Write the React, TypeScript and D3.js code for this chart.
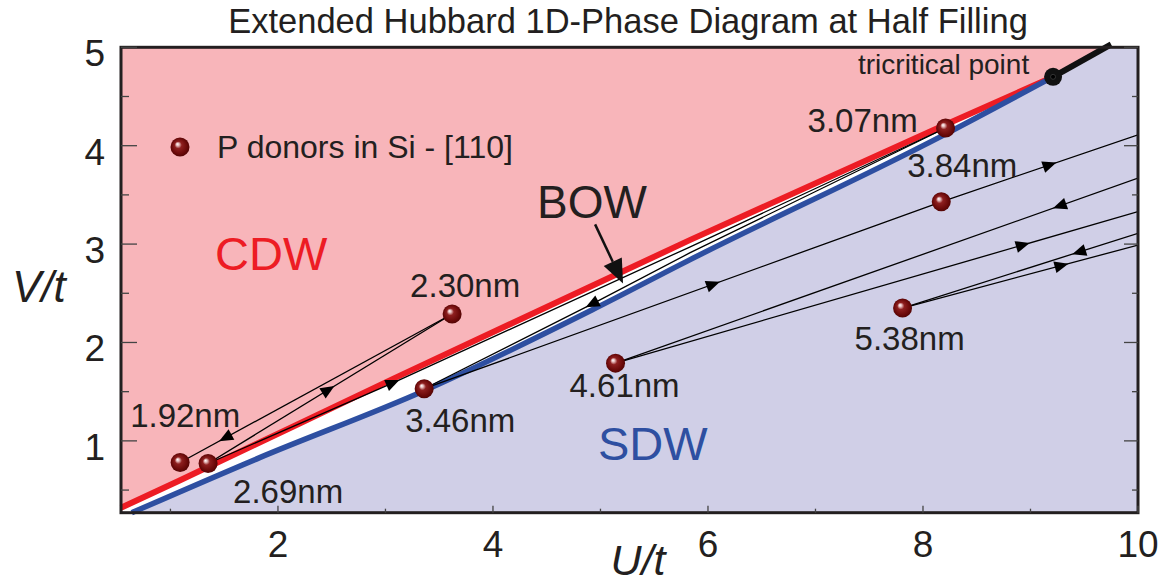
import React from 'react';
import * as d3 from 'd3';

// ---- data (U/t, V/t) ----
const xTicks = [2, 4, 6, 8, 10];
const xMinor = [1, 3, 5, 7, 9];
const yTicks = [1, 2, 3, 4, 5];
const yMinor = [0.5, 1.5, 2.5, 3.5, 4.5];

// CDW / BOW boundary (red) and BOW / SDW boundary (blue)
const cdwLine: [number, number][] = [[0.54, 0.32], [1.09, 0.60], [3.07, 1.63], [5.83, 3.04], [8.16, 4.19], [9.21, 4.70]];
const sdwLine: [number, number][] = [[0.64, 0.27], [1.83, 0.83], [3.36, 1.51], [4.92, 2.33], [5.83, 2.84], [8.16, 4.09], [9.21, 4.70]];
const tricritical: [number, number] = [9.21, 4.70];
const firstOrder: [number, number][] = [[9.21, 4.70], [9.75, 5.03]];

const donorLabels = ['1.92nm', '2.69nm', '2.30nm', '3.46nm', '4.61nm', '3.07nm', '3.84nm', '5.38nm'];
const donorU = [1.09, 1.35, 3.62, 3.36, 5.14, 8.21, 8.17, 7.81];
const donorV = [0.78, 0.77, 2.29, 1.53, 1.79, 4.18, 3.43, 2.35];

// flow trajectories, arrows given as U position and direction along the point order
const flow1: [number, number][] = [[3.62, 2.29], [1.09, 0.78]];
const flow2: [number, number][] = [[1.35, 0.77], [3.62, 2.29]];
const flow3: [number, number][] = [[1.35, 0.77], [3.07, 1.59], [5.83, 2.97], [8.21, 4.18]];
const flow4: [number, number][] = [[8.21, 4.18], [5.83, 2.91], [4.92, 2.39], [3.36, 1.53]];
const flow5: [number, number][] = [[3.36, 1.53], [8.17, 3.43], [10, 4.11]];
const flow6: [number, number][] = [[5.14, 1.79], [10, 3.67]];
const flow7: [number, number][] = [[5.14, 1.79], [10, 3.33]];
const flow8: [number, number][] = [[7.81, 2.35], [10, 3.11]];
const flow9: [number, number][] = [[7.81, 2.35], [10, 2.99]];
const flows = [flow1, flow2, flow3, flow4, flow5, flow6, flow7, flow8, flow9];
const flowArrows: { u: number; dir: number }[][] = [
  [{ u: 1.51, dir: 1 }],
  [{ u: 2.47, dir: 1 }],
  [{ u: 3.07, dir: 1 }],
  [{ u: 4.92, dir: 1 }],
  [{ u: 6.05, dir: 1 }, { u: 9.18, dir: 1 }],
  [{ u: 9.27, dir: -1 }],
  [{ u: 8.93, dir: 1 }],
  [{ u: 9.45, dir: -1 }],
  [{ u: 9.29, dir: 1 }],
];

// ---- layout ----
const W = 1159;
const H = 583;
const X0 = 121, X1 = 1138, Y0 = 512.7, Y1 = 47.3;
const labelOffsets = [[-50, -36], [25, 39], [-42, -17], [-19, 43], [-46, 34], [-138, 4], [-34, -25], [-48, 42]];
const ink = '#231f20';
const font = '"Liberation Sans", Arial, Helvetica, sans-serif';

const x = d3.scaleLinear().domain([0.54, 10]).range([X0, X1]);
const y = d3.scaleLinear().domain([0.27, 5]).range([Y0, Y1]);

const line = d3.line<[number, number]>().x(d => x(d[0])).y(d => y(d[1]));
const curve = d3.line<[number, number]>().x(d => x(d[0])).y(d => y(d[1])).curve(d3.curveMonotoneX);

function arrowAt(pts: [number, number][], u: number, dir: number) {
  for (let i = 0; i < pts.length - 1; i++) {
    const a = pts[i], b = pts[i + 1];
    const lo = Math.min(a[0], b[0]), hi = Math.max(a[0], b[0]);
    if (u >= lo && u <= hi) {
      const t = (u - a[0]) / (b[0] - a[0]);
      const px = x(a[0]) + t * (x(b[0]) - x(a[0]));
      const py = y(a[1]) + t * (y(b[1]) - y(a[1]));
      let ang = Math.atan2(y(b[1]) - y(a[1]), x(b[0]) - x(a[0]));
      if (dir < 0) ang += Math.PI;
      const L = 14, hw = 6;
      const c = Math.cos(ang), s = Math.sin(ang);
      const tip = [px + c * L / 2, py + s * L / 2];
      const bx = px - c * L / 2, by = py - s * L / 2;
      return `M${tip[0]},${tip[1]}L${bx - s * hw},${by + c * hw}L${bx + s * hw},${by - c * hw}Z`;
    }
  }
  return '';
}

const App = () => {
  const pinkPoly: [number, number][] = [...cdwLine, firstOrder[1], [0.3, 5.03], [0.3, 0.32]];
  const whitePoly: [number, number][] = [...sdwLine, firstOrder[1], [0.3, 5.03], [0.3, 0.2], [0.64, 0.2]];

  // BOW pointer
  const bowTail: [number, number] = [4.95, 3.2];
  const bowTip: [number, number] = [5.21, 2.6];
  const tx = x(bowTail[0]), ty = y(bowTail[1]), hx = x(bowTip[0]), hy = y(bowTip[1]);
  const ang = Math.atan2(hy - ty, hx - tx);
  const c = Math.cos(ang), s = Math.sin(ang);
  const HL = 24, HW = 10;
  const bxp = hx - c * HL, byp = hy - s * HL;
  const bowHead = `M${hx},${hy}L${bxp - s * HW},${byp + c * HW}L${bxp + s * HW},${byp - c * HW}Z`;

  return (
    <svg width={W} height={H} style={{ position: 'absolute', left: 0, top: 0, background: '#fff' }} fontFamily={font}>
      <defs>
        <clipPath id="plot">
          <rect x={X0} y={Y1} width={X1 - X0} height={Y0 - Y1} />
        </clipPath>
        <radialGradient id="sphere" cx="50%" cy="50%" r="55%" fx="36%" fy="34%">
          <stop offset="0%" stopColor="#ffffff" />
          <stop offset="14%" stopColor="#e6bcbc" />
          <stop offset="34%" stopColor="#8e1f1f" />
          <stop offset="75%" stopColor="#6a0909" />
          <stop offset="100%" stopColor="#4a0303" />
        </radialGradient>
      </defs>

      <g clipPath="url(#plot)">
        <rect x={X0} y={Y1} width={X1 - X0} height={Y0 - Y1} fill="#d0cfe7" />
        <path d={line(whitePoly) + 'Z'} fill="#ffffff" />
        <path d={line(pinkPoly) + 'Z'} fill="#f8b5ba" />
      </g>

      <path d={curve(cdwLine) || ''} fill="none" stroke="#ed1c24" strokeWidth={6} />
      <path d={curve(sdwLine) || ''} fill="none" stroke="#2e4fa1" strokeWidth={5.5} />
      <path d={line(firstOrder) || ''} fill="none" stroke="#111" strokeWidth={6} />

      <g clipPath="url(#plot)">
        {flows.map((f, i) => (
          <g key={i}>
            <path d={line(f) || ''} fill="none" stroke="#000" strokeWidth={1.3} />
            {flowArrows[i].map((a, j) => (
              <path key={j} d={arrowAt(f, a.u, a.dir)} fill="#000" />
            ))}
          </g>
        ))}
      </g>

      {donorLabels.map((lab, i) => (
        <g key={lab}>
          <circle cx={x(donorU[i])} cy={y(donorV[i])} r={9.5} fill="url(#sphere)" />
          <text x={x(donorU[i]) + labelOffsets[i][0]} y={y(donorV[i]) + labelOffsets[i][1]} fontSize={33} fill={ink}>{lab}</text>
        </g>
      ))}

      <circle cx={x(tricritical[0])} cy={y(tricritical[1])} r={9} fill="#111" />
      <circle cx={x(tricritical[0])} cy={y(tricritical[1])} r={2.5} fill="#000" stroke="#333" strokeWidth={1} />
      <text x={858} y={74} fontSize={28} fill={ink}>tricritical point</text>

      <circle cx={180} cy={147} r={9.5} fill="url(#sphere)" />
      <text x={217} y={158} fontSize={32} fill={ink}>P donors in Si - [110]</text>

      <text x={215} y={270} fontSize={47} fill="#ed1c24">CDW</text>
      <text x={598} y={460} fontSize={47} fill="#2e4fa1">SDW</text>
      <text x={537} y={218} fontSize={46} fill={ink}>BOW</text>
      <line x1={tx} y1={ty} x2={bxp} y2={byp} stroke="#111" strokeWidth={2.5} />
      <path d={bowHead} fill="#111" />

      {/* frame */}
      <rect x={X0} y={Y1} width={X1 - X0} height={Y0 - Y1} fill="none" stroke={ink} strokeWidth={3} />

      {/* ticks */}
      <g stroke="#444" strokeWidth={1.3}>
        {yTicks.map(t => <line key={'yl' + t} x1={X0} x2={X0 + 16} y1={y(t)} y2={y(t)} />)}
        {yMinor.map(t => <line key={'ylm' + t} x1={X0} x2={X0 + 8} y1={y(t)} y2={y(t)} />)}
        {yTicks.map(t => <line key={'yr' + t} x1={X1} x2={X1 - 14} y1={y(t)} y2={y(t)} />)}
        {yMinor.map(t => <line key={'yrm' + t} x1={X1} x2={X1 - 6} y1={y(t)} y2={y(t)} />)}
        {xTicks.map(t => <line key={'xb' + t} x1={x(t)} x2={x(t)} y1={Y0} y2={Y0 - 7} />)}
        {xMinor.map(t => <line key={'xbm' + t} x1={x(t)} x2={x(t)} y1={Y0} y2={Y0 - 4} />)}
      </g>

      {yTicks.map(t => (
        <text key={'ytl' + t} x={105} y={y(t) + 19} fontSize={37} fill={ink} textAnchor="end">{t}</text>
      ))}
      {xTicks.map(t => (
        <text key={'xtl' + t} x={x(t)} y={557} fontSize={37} fill={ink} textAnchor="middle">{t}</text>
      ))}

      <text x={628} y={33} fontSize={34.5} fill={ink} textAnchor="middle">Extended Hubbard 1D-Phase Diagram at Half Filling</text>
      <text x={12} y={302} fontSize={44} fontStyle="italic" fill={ink}>V/t</text>
      <text x={638} y={575} fontSize={43} fontStyle="italic" fill={ink} textAnchor="middle">U/t</text>
    </svg>
  );
};

export default App;
